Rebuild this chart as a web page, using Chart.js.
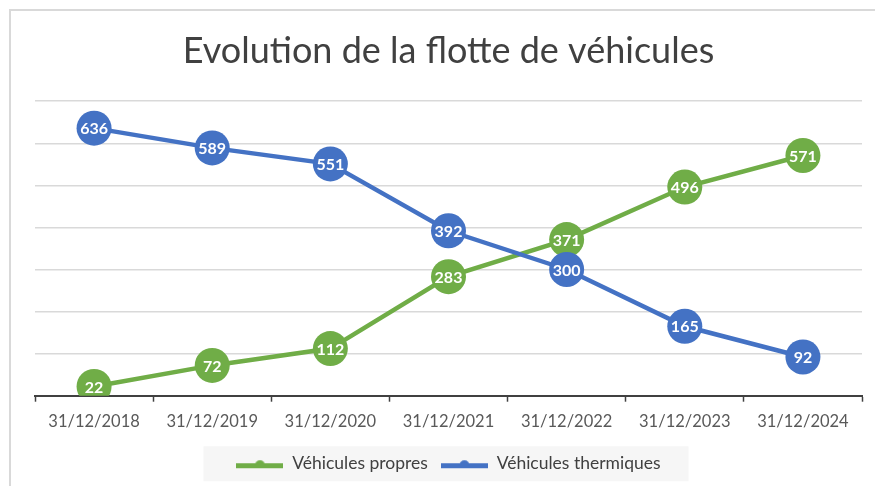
<!DOCTYPE html>
<html>
<head>
<meta charset="utf-8">
<script src="https://cdn.jsdelivr.net/npm/chart.js@4.4.1/dist/chart.umd.min.js"></script>
<style>
  html, body { margin: 0; padding: 0; background: #ffffff; }
  #wrap { width: 875px; height: 486px; }
</style>
</head>
<body>
<div id="wrap"><canvas id="chart" width="875" height="486"></canvas></div>
<script>
// Chart data
const categories = ['31/12/2018', '31/12/2019', '31/12/2020', '31/12/2021', '31/12/2022', '31/12/2023', '31/12/2024'];
const propres = [22, 72, 112, 283, 371, 496, 571];
const thermiques = [636, 589, 551, 392, 300, 165, 92];
const yTicks = [0, 100, 200, 300, 400, 500, 600, 700];

const GREEN = '#70ad47';
const BLUE = '#4472c4';
const FONT = 'Lato, "Open Sans", sans-serif';

// little legend marker: a line with a bump in the middle
function legendMarker(color) {
  const c = document.createElement('canvas');
  c.width = 47;
  c.height = 12;
  const g = c.getContext('2d');
  g.fillStyle = color;
  g.fillRect(0, 6, 47, 5);
  g.beginPath();
  g.arc(23.5, 8, 5, Math.PI, 0);
  g.fill();
  return c;
}

// white value inside each marker
const valueLabels = {
  id: 'valueLabels',
  afterDatasetDraw(chart, args) {
    const ctx = chart.ctx;
    const ds = chart.data.datasets[args.index];
    ctx.save();
    ctx.fillStyle = '#ffffff';
    ctx.font = 'bold 16px ' + FONT;
    ctx.textAlign = 'center';
    ctx.textBaseline = 'middle';
    args.meta.data.forEach((pt, i) => {
      ctx.fillText(String(ds.data[i]), pt.x, pt.y + 1);
    });
    ctx.restore();
  }
};

// frame lines and legend background
const decor = {
  id: 'decor',
  beforeDraw(chart) {
    const ctx = chart.ctx;
    ctx.save();
    ctx.strokeStyle = '#d9d9d9';
    ctx.lineWidth = 2;
    ctx.beginPath();
    ctx.moveTo(10, chart.height);
    ctx.lineTo(10, 10);
    ctx.lineTo(chart.width, 10);
    ctx.stroke();

    const boxes = chart.legend.legendHitBoxes;
    if (boxes && boxes.length) {
      const left = Math.min(...boxes.map(b => b.left)) - 33;
      const right = Math.max(...boxes.map(b => b.left + b.width)) + 28;
      const cy = boxes[0].top + boxes[0].height / 2;
      ctx.fillStyle = '#f6f6f6';
      ctx.fillRect(left, cy - 17, right - left, 35);
    }
    ctx.restore();
  }
};

new Chart(document.getElementById('chart'), {
  type: 'line',
  data: {
    labels: categories,
    datasets: [
      {
        label: 'Véhicules propres',
        data: propres,
        borderColor: GREEN,
        backgroundColor: GREEN,
        pointBackgroundColor: GREEN,
        pointBorderColor: GREEN,
        borderWidth: 4.5,
        pointRadius: 17.5,
        pointBorderWidth: 0,
        order: 1
      },
      {
        label: 'Véhicules thermiques',
        data: thermiques,
        borderColor: BLUE,
        backgroundColor: BLUE,
        pointBackgroundColor: BLUE,
        pointBorderColor: BLUE,
        borderWidth: 4.5,
        pointRadius: 17.5,
        pointBorderWidth: 0,
        order: 0
      }
    ]
  },
  options: {
    responsive: false,
    animation: false,
    layout: {
      autoPadding: false,
      padding: { left: 35, right: 13, top: 0, bottom: 4 }
    },
    scales: {
      x: {
        offset: true,
        afterFit(scale) {
          scale.paddingLeft = 0;
          scale.paddingRight = 0;
        },
        grid: {
          offset: true,
          drawOnChartArea: false,
          drawTicks: true,
          tickLength: 6,
          tickColor: '#404040',
          tickWidth: 1.5
        },
        border: { display: true, color: '#404040', width: 2 },
        ticks: {
          color: '#595959',
          font: { family: FONT, size: 16.5 },
          padding: 10,
          maxRotation: 0,
          autoSkip: false
        }
      },
      y: {
        min: yTicks[0],
        max: yTicks[yTicks.length - 1],
        afterBuildTicks(scale) {
          scale.ticks = yTicks.map(v => ({ value: v }));
        },
        grid: { color: '#d9d9d9', lineWidth: 1.5, drawTicks: false },
        border: { display: false },
        ticks: { display: false }
      }
    },
    plugins: {
      title: {
        display: true,
        text: 'Evolution de la flotte de véhicules',
        color: '#404040',
        font: { family: FONT, size: 36, weight: 'normal' },
        padding: { top: 30, bottom: 28 }
      },
      legend: {
        position: 'bottom',
        labels: {
          color: '#404040',
          font: { family: FONT, size: 17.5 },
          usePointStyle: true,
          pointStyleWidth: 47,
          padding: 13,
          generateLabels(chart) {
            return chart.data.datasets.map((ds, i) => ({
              text: ds.label,
              pointStyle: legendMarker(ds.borderColor),
              fillStyle: ds.borderColor,
              strokeStyle: ds.borderColor,
              lineWidth: 0,
              fontColor: '#404040',
              hidden: false,
              datasetIndex: i
            }));
          }
        }
      },
      tooltip: { enabled: false }
    }
  },
  plugins: [decor, valueLabels]
});
</script>
</body>
</html>
